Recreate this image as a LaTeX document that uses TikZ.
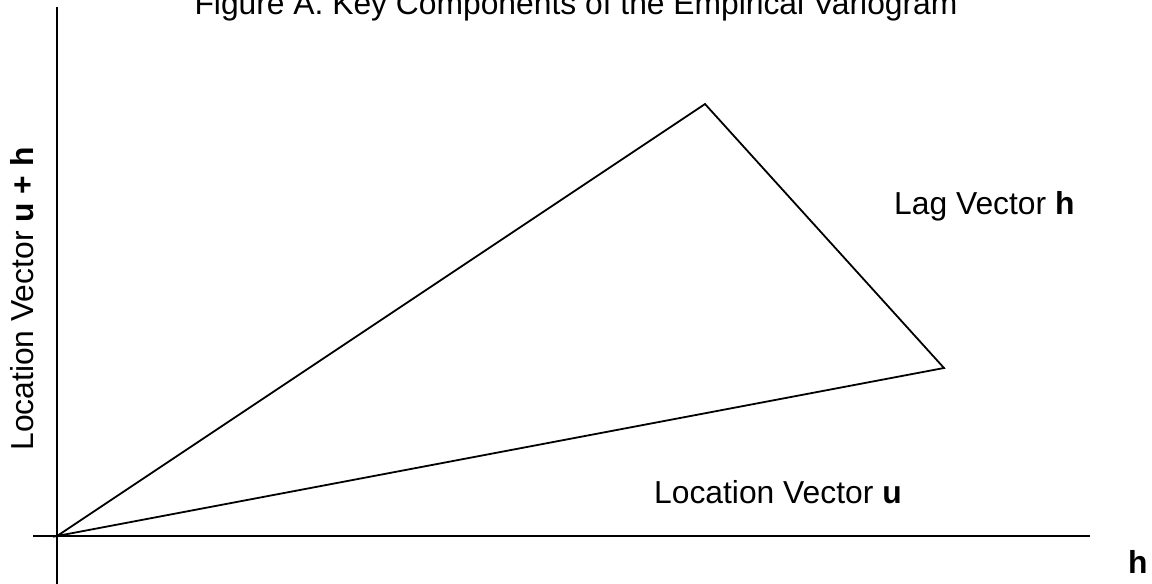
\documentclass[tikz,border=0pt]{standalone}
\usepackage{fontspec}
\setmainfont{Liberation Sans}
\tikzset{
  lbl/.style={inner sep=0pt, font=\fontsize{31.8}{38}\selectfont},
  ax/.style={line width=2pt},
  tri/.style={line width=1.8pt, line join=miter}
}
\begin{document}
\begin{tikzpicture}[x=1pt,y=-1pt]
\useasboundingbox (0,0) rectangle (1152,584);
% axes
\coordinate (ytop) at (57,7);
\coordinate (ybot) at (57,590);
\coordinate (xl) at (33,536);
\coordinate (xr) at (1090,536);
\draw[ax] (ytop) -- (ybot);
\draw[ax] (xl) -- (xr);
% triangle
\coordinate (O) at (57,536);
\coordinate (A) at (705,104);
\coordinate (R) at (944,368);
\draw[tri] (O) -- (A) -- (R) -- cycle;
% labels
\node[lbl, anchor=base] (title) at (576,14) {Figure A. Key Components of the Empirical Variogram};
\node[lbl, anchor=base west] (lag) at (894,214) {Lag Vector \textbf{h}};
\node[lbl, anchor=base west] (locu) at (654,503) {Location Vector \textbf{u}};
\node[lbl, anchor=base west] (hx) at (1128,573) {\textbf{h}};
\node[lbl, anchor=base, rotate=90] (ylab) at (34,299) {Location Vector \textbf{u + h}};
\end{tikzpicture}
\end{document}
